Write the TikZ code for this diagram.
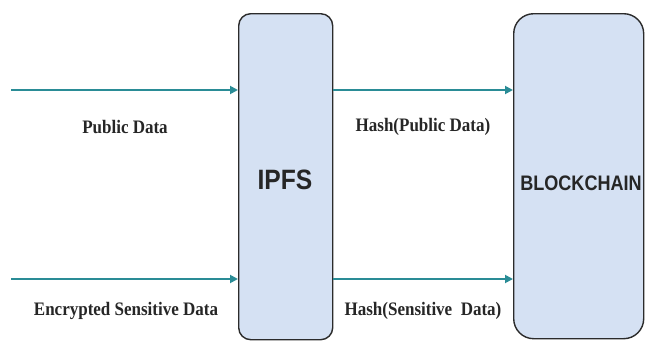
\documentclass[tikz,border=0pt]{standalone}
\usepackage{fontspec}
\setmainfont{Liberation Serif}
\setsansfont{Liberation Sans}
\usetikzlibrary{arrows.meta}
\definecolor{teal1}{HTML}{2A8C96}
\definecolor{boxfill}{HTML}{D5E1F3}
\definecolor{boxline}{HTML}{2B2B2B}
\begin{document}
\begin{tikzpicture}[x=1pt,y=-1pt,
  blk/.style={draw=boxline,line width=1.4pt,fill=boxfill,minimum width=#1,anchor=north west},
  flow/.style={draw=teal1,line width=1.8pt,-{Triangle[length=8pt,width=8pt]}},
  lbl/.style={font=\fontsize{17}{19}\selectfont\bfseries,yscale=1.12,xscale=1.0,text=black!85}]
\useasboundingbox (0,0) rectangle (646,343);
\fill[white] (0,0) rectangle (646,343);
\node[blk=94pt,minimum height=326pt,rounded corners=12pt] (ipfs) at (238,13) {};
\node[font=\sffamily\bfseries\fontsize{28}{30}\selectfont,xscale=0.88,text=black!85] (ipfst) at (285,180) {IPFS};
\node[blk=130pt,minimum height=325pt,rounded corners=20pt] (bc) at (513,13) {};
\node[font=\sffamily\bfseries\fontsize{21}{23}\selectfont,xscale=0.86,text=black!85] (bct) at (581,183) {BLOCKCHAIN};
\coordinate (s1) at (11,90);
\coordinate (s2) at (11,279);
\draw[flow] (s1) -- (s1 -| ipfs.west);
\draw[flow] (s2) -- (s2 -| ipfs.west);
\draw[flow] (s1 -| ipfs.east) -- (s1 -| bc.west);
\draw[flow] (s2 -| ipfs.east) -- (s2 -| bc.west);
\node[lbl] (l1) at (125,127) {Public Data};
\node[lbl] (l2) at (126,311) {Encrypted Sensitive Data};
\node[lbl] (l3) at (423,127) {Hash(Public Data)};
\node[lbl] (l4) at (423,311) {Hash(Sensitive\ \ Data)};
\end{tikzpicture}
\end{document}
